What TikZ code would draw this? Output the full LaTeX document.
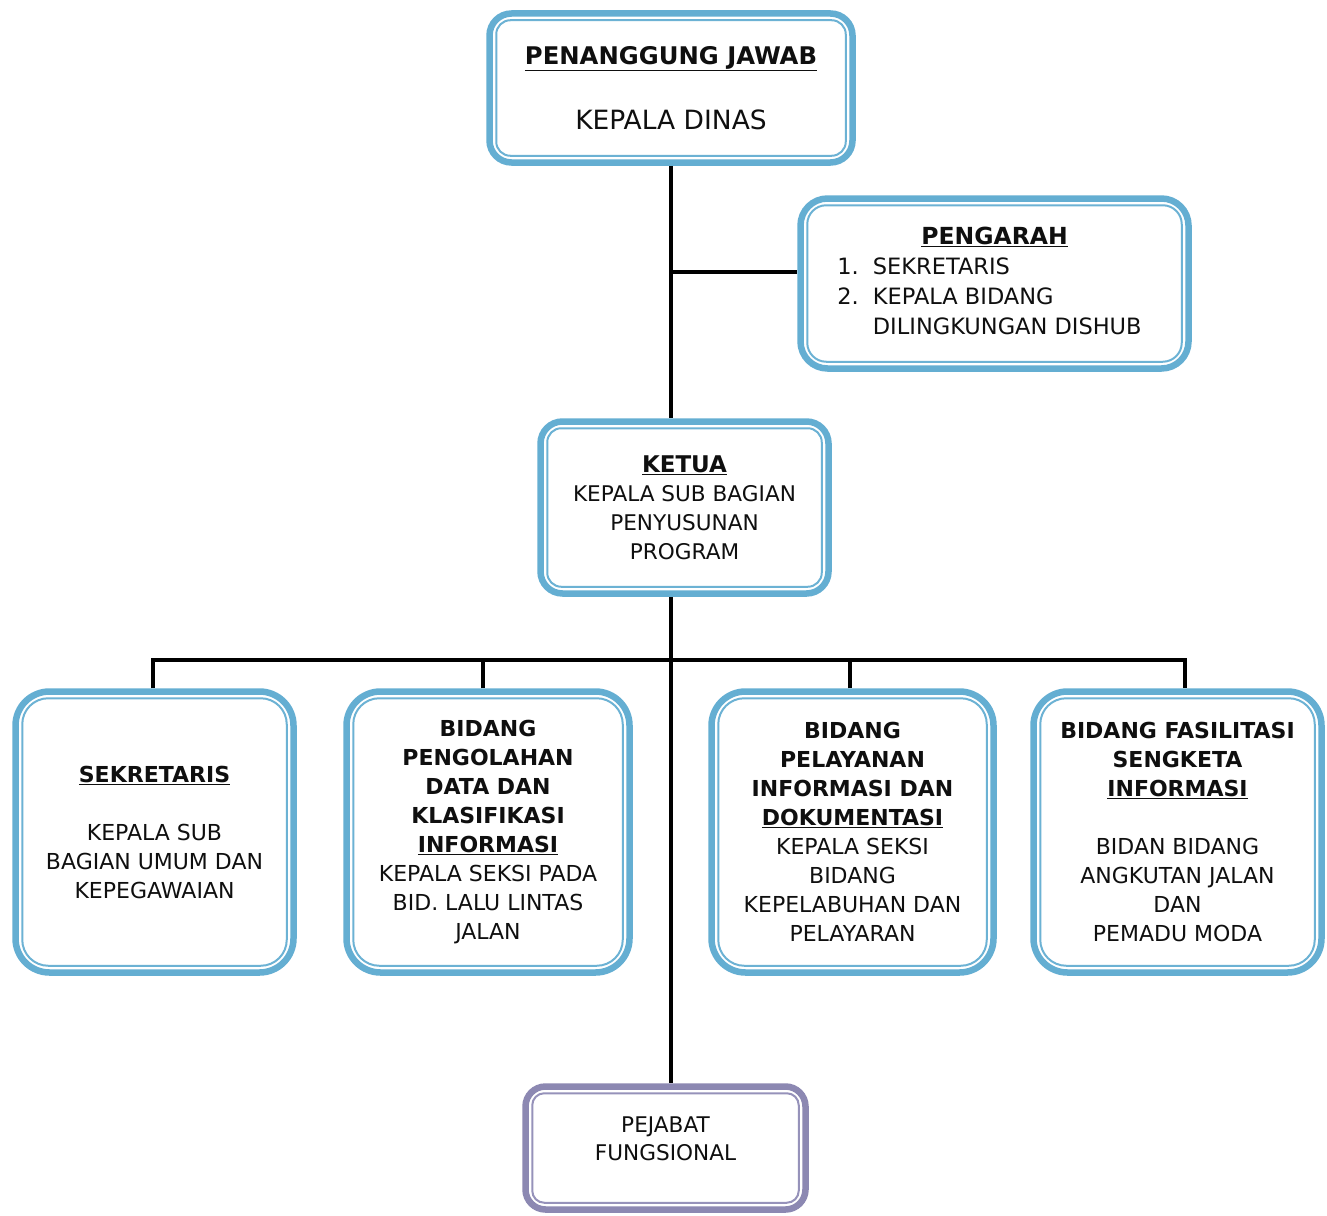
\documentclass[tikz,border=0pt]{standalone}
\usepackage{fontspec}
\setmainfont{DejaVu Sans}
\definecolor{boxblue}{RGB}{100,174,210}
\definecolor{boxblueinner}{RGB}{108,178,212}
\definecolor{boxpurple}{RGB}{140,136,178}
\definecolor{boxpurpleinner}{RGB}{150,146,186}
\definecolor{txt}{RGB}{15,15,15}
\tikzset{
  box/.style={draw=boxblue, line width=6.5pt, fill=white, rounded corners=#1,
    inner sep=0pt, align=center, text=txt, font=\fontsize{22}{29}\selectfont},
  box/.default=22pt,
  innerline/.style={line width=2pt},
  conn/.style={draw=black, line width=4pt},
}
\begin{document}
\begin{tikzpicture}[x=1pt,y=-1pt]
\useasboundingbox[fill=white] (0,0) rectangle (1327,1215);

% top
\node[box=22pt, minimum width=363pt, minimum height=149pt] (pj) at (671,88)
  {{\fontsize{24.3}{30}\selectfont\bfseries\underline{PENANGGUNG JAWAB}}\\[36pt]
   {\fontsize{26.5}{30}\selectfont KEPALA DINAS}};

% pengarah
\node[box=27pt, minimum width=388pt, minimum height=170pt, font=\fontsize{22.5}{30}\selectfont] (pg) at (994.5,283.5)
  {\begin{tabular}{@{}l@{\hspace{14pt}}l@{\hspace{10pt}}}
   \multicolumn{2}{c}{\fontsize{23.5}{30}\selectfont\bfseries\underline{PENGARAH}\hspace{6pt}}\\
   1. & SEKRETARIS\\
   2. & KEPALA BIDANG\\
      & DILINGKUNGAN DISHUB
   \end{tabular}};

% ketua
\node[box=22pt, minimum width=288pt, minimum height=172pt, font=\fontsize{21.6}{29}\selectfont] (kt) at (684.5,507.5)
  {{\fontsize{23}{29}\selectfont\bfseries\underline{KETUA}}\\ KEPALA SUB BAGIAN\\ PENYUSUNAN\\ PROGRAM};

% bottom row
\node[box=34pt, minimum width=278pt, minimum height=281pt] (s1) at (154.5,832)
  {{\bfseries\underline{SEKRETARIS}}\\[29pt] KEPALA SUB\\ BAGIAN UMUM DAN\\ KEPEGAWAIAN};
\node[box=34pt, minimum width=283pt, minimum height=281pt] (s2) at (488,832)
  {{\bfseries BIDANG}\\ {\bfseries PENGOLAHAN}\\ {\bfseries DATA DAN}\\ {\bfseries KLASIFIKASI}\\
   {\bfseries\underline{INFORMASI}}\\ KEPALA SEKSI PADA\\ BID. LALU LINTAS\\ JALAN};
\node[box=34pt, minimum width=282pt, minimum height=281pt] (s3) at (852.5,832)
  {{\bfseries BIDANG}\\ {\bfseries PELAYANAN}\\ {\bfseries INFORMASI DAN}\\ {\bfseries\underline{DOKUMENTASI}}\\
   KEPALA SEKSI\\ BIDANG\\ KEPELABUHAN DAN\\ PELAYARAN};
\node[box=34pt, minimum width=288pt, minimum height=281pt] (s4) at (1177.5,832)
  {{\bfseries BIDANG FASILITASI}\\ {\bfseries SENGKETA}\\ {\bfseries\underline{INFORMASI}}\\[29pt]
   BIDAN BIDANG\\ ANGKUTAN JALAN\\ DAN\\ PEMADU MODA};

% pejabat fungsional
\node[box=20pt, draw=boxpurple, minimum width=280pt, minimum height=123pt, font=\fontsize{21.6}{28}\selectfont] (pf) at (665.5,1148)
  {PEJABAT\\ FUNGSIONAL\\[-9pt]\mbox{}};

% inner thin outlines
\foreach \n/\r/\c in {pj/14pt/boxblueinner, pg/19pt/boxblueinner, kt/14pt/boxblueinner,
    s1/26pt/boxblueinner, s2/26pt/boxblueinner, s3/26pt/boxblueinner, s4/26pt/boxblueinner,
    pf/12pt/boxpurpleinner}
  \draw[innerline, draw=\c, rounded corners=\r]
    ([shift={(10pt,10pt)}]\n.south west) rectangle ([shift={(-10pt,-10pt)}]\n.north east);

% connectors
\coordinate (pgin) at ([yshift=12pt]pg.west);
\coordinate (bus) at (671,660);
\coordinate (d1) at ([xshift=-1.5pt]s1.north);
\coordinate (d2) at ([xshift=-5pt]s2.north);
\coordinate (d3) at ([xshift=-2.5pt]s3.north);
\coordinate (d4) at ([xshift=7.5pt]s4.north);

\draw[conn] (pj.south) -- (pj.south |- kt.north);
\draw[conn] (pj.south |- pgin) -- (pgin);
\draw[conn] (pj.south |- kt.south) -- (pj.south |- pf.north);
\draw[conn] (d1) -- (d1 |- bus) -- (d4 |- bus) -- (d4);
\draw[conn] (d2) -- (d2 |- bus);
\draw[conn] (d3) -- (d3 |- bus);
\end{tikzpicture}
\end{document}
